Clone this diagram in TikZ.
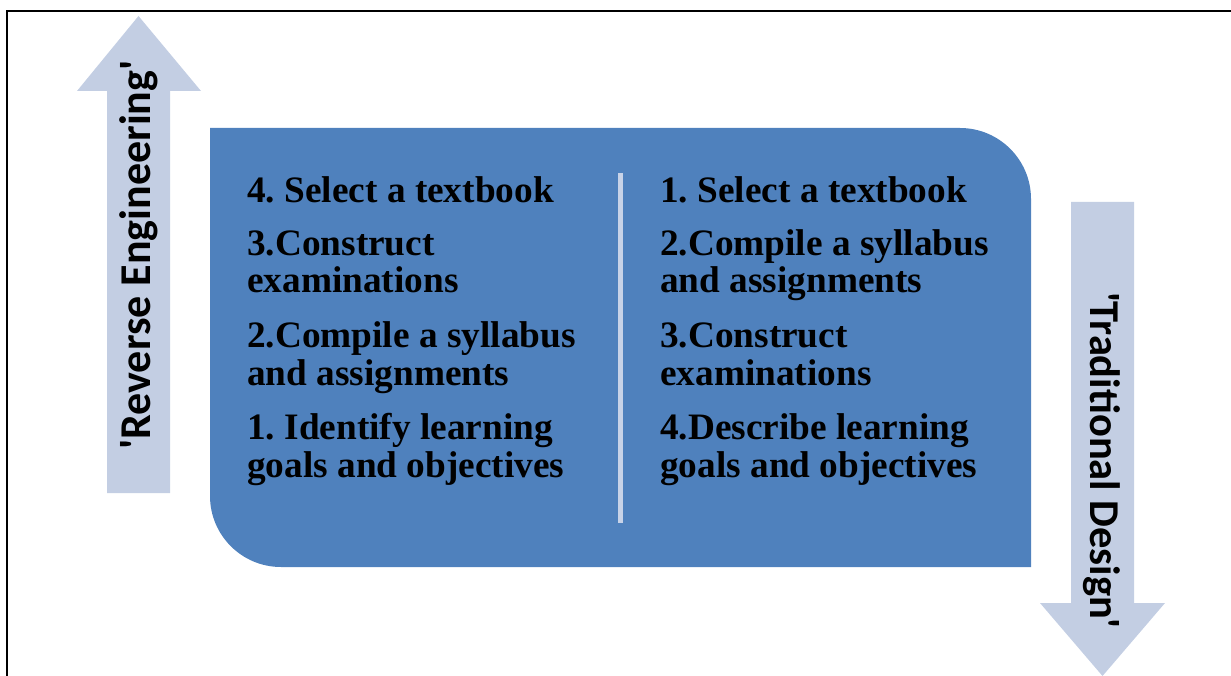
\documentclass[tikz,border=0pt]{standalone}
\usepackage{fontspec}
\setmainfont{Liberation Serif}
\newfontfamily\calibfont{Carlito}
\definecolor{boxblue}{HTML}{4F81BD}
\definecolor{arrowblue}{HTML}{C3CEE3}
\definecolor{divblue}{HTML}{C8D3E8}
\tikzset{
  itemtext/.style={anchor=base west, inner sep=0pt, font=\frenchspacing\bfseries\fontsize{37.3}{37.3}\selectfont, text=black},
  arrowtext/.style={anchor=base, inner sep=0pt, text=black},
  bigarrow/.style={fill=arrowblue, draw=none},
}
\begin{document}
\begin{tikzpicture}[x=1pt,y=-1pt]
\useasboundingbox (0,0) rectangle (1231,676);
% frame
\draw[line width=1.6pt, black] (7,680) -- (7,11) -- (1235,11);
% arrows
\fill[bigarrow] (107,493) -- (107,91) -- (77,91) -- (138.5,16) -- (201,91) -- (170,91) -- (170,493) -- cycle;
\fill[bigarrow] (1071,202) -- (1134,202) -- (1134,603) -- (1165,603) -- (1102.5,676) -- (1040,603) -- (1071,603) -- cycle;
% blue box
\fill[boxblue] (210,128) -- (960,128) .. controls (999.2,128) and (1031,159.8) .. (1031,199)
  -- (1031,567) -- (281,567) .. controls (241.8,567) and (210,535.2) .. (210,496) -- cycle;
% divider
\draw[divblue, line width=5pt] (620,173) coordinate (dtop) -- (620,523) coordinate (dbot);
% arrow labels
\node[arrowtext, rotate=90, font=\calibfont\bfseries\fontsize{44}{44}\selectfont] (rev) at (150.5,255) {'Reverse Engineering'};
\node[arrowtext, rotate=-90, font=\calibfont\bfseries\fontsize{42.5}{42.5}\selectfont] (trad) at (1090,460) {'Traditional Design'};
% left column
\node[itemtext] (l1) at (247,202.5) {4. Select a textbook};
\node[itemtext] (l2) at (247,255.5) {3.Construct};
\node[itemtext] (l3) at (247,293) {examinations};
\node[itemtext] (l4) at (247,347.5) {2.Compile a syllabus};
\node[itemtext] (l5) at (247,385) {and assignments};
\node[itemtext] (l6) at (247,439.5) {1. Identify learning};
\node[itemtext] (l7) at (247,477) {goals and objectives};
% right column
\node[itemtext] (r1) at (660,202.5) {1. Select a textbook};
\node[itemtext] (r2) at (660,255.5) {2.Compile a syllabus};
\node[itemtext] (r3) at (660,293) {and assignments};
\node[itemtext] (r4) at (660,347.5) {3.Construct};
\node[itemtext] (r5) at (660,385) {examinations};
\node[itemtext] (r6) at (660,439.5) {4.Describe learning};
\node[itemtext] (r7) at (660,477) {goals and objectives};
\end{tikzpicture}
\end{document}
